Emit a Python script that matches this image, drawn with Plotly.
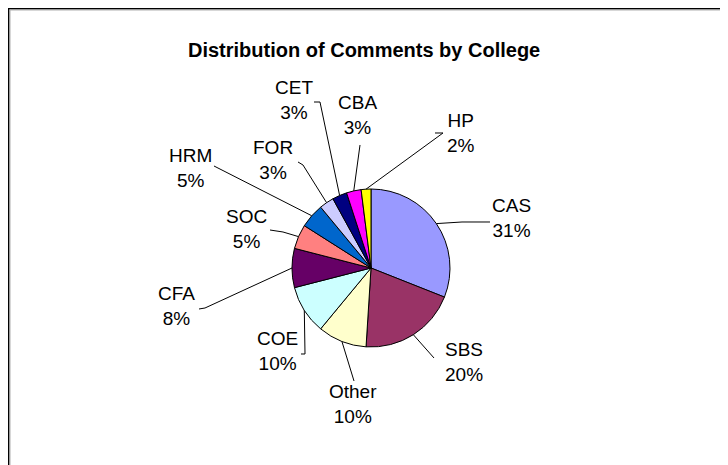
import math
import plotly.graph_objects as go

# ---- data ----
colleges = ["CAS", "SBS", "Other", "COE", "CFA", "SOC", "HRM", "FOR", "CET", "CBA", "HP"]
shares = [31, 20, 10, 10, 8, 5, 5, 3, 3, 3, 2]
colors = ["#9999FF", "#993366", "#FFFFCC", "#CCFFFF", "#660066", "#FF8080",
          "#0066CC", "#CCCCFF", "#000080", "#FF00FF", "#FFFF00"]
chart_title = "Distribution of Comments by College"

# ---- layout constants (window pixels; page body adds an 8px offset) ----
OFF = 8
W, H = 728 - OFF, 465 - OFF
CX, CY, R = 371, 268, 79
FONT = "Liberation Sans, Arial, sans-serif"

# label block centres
label_center = {
    "CAS": (512, 218), "SBS": (464, 362), "Other": (353, 404), "COE": (277, 351),
    "CFA": (176, 306), "SOC": (246, 229), "HRM": (190, 168), "FOR": (273, 160),
    "CET": (294, 100), "CBA": (357, 115), "HP": (461, 133),
}
# leader-line points on the label side (from slice towards label)
leader_tail = {
    "CAS": [(462, 222), (490, 222)],
    "SBS": [(434, 358)],
    "Other": [(354, 381)],
    "COE": [(305, 354), (301, 354)],
    "CFA": [(205, 308), (199, 309)],
    "SOC": [(283, 232), (270, 230)],
    "HRM": [(214, 166)],
    "FOR": [(303, 165), (298, 162)],
    "CET": [(320, 102), (314, 102)],
    "CBA": [(360, 145)],
    "HP": [(443, 133), (435, 133)],
}


def px(x):
    return (x - OFF) / W


def py(y):
    return 1 - (y - OFF) / H


fig = go.Figure()
fig.add_trace(go.Pie(
    labels=colleges, values=shares, sort=False, direction="clockwise", rotation=0,
    marker=dict(colors=colors, line=dict(color="black", width=1)),
    textinfo="none", hoverinfo="label+percent", showlegend=False,
    domain=dict(x=[px(CX - R), px(CX + R)], y=[py(CY + R), py(CY - R)]),
))

total = sum(shares)
shapes = []
annotations = []
cum = 0
for name, v in zip(colleges, shares):
    mid = (cum + v / 2) / total * 2 * math.pi
    cum += v
    ex = CX + R * math.sin(mid)
    ey = CY - R * math.cos(mid)
    pts = [(ex, ey)] + leader_tail[name]
    path = "M " + " L ".join(f"{px(a):.5f},{py(b):.5f}" for a, b in pts)
    shapes.append(dict(type="path", xref="paper", yref="paper", path=path,
                       line=dict(color="black", width=1)))
    lx, ly = label_center[name]
    annotations.append(dict(
        x=px(lx), y=py(ly), xref="paper", yref="paper", xanchor="center", yanchor="middle",
        text=f"{name}<br>{round(100 * v / total)}%", showarrow=False, align="center",
        font=dict(family=FONT, size=19, color="black"),
    ))

# chart frame (top and left edges visible)
shapes += [
    dict(type="line", xref="paper", yref="paper", x0=0, x1=1.02, y0=py(OFF + 0.5), y1=py(OFF + 0.5),
         line=dict(color="black", width=2)),
    dict(type="line", xref="paper", yref="paper", x0=px(OFF + 0.5), x1=px(OFF + 0.5), y0=1, y1=-0.02,
         line=dict(color="black", width=2)),
    dict(type="line", xref="paper", yref="paper", x0=px(OFF + 1.5), x1=1.02, y0=py(OFF + 2), y1=py(OFF + 2),
         line=dict(color="#B0B0B0", width=1)),
    dict(type="line", xref="paper", yref="paper", x0=px(OFF + 2), x1=px(OFF + 2), y0=py(OFF + 1.5), y1=-0.02,
         line=dict(color="#B0B0B0", width=1)),
]

annotations.append(dict(
    x=px(364), y=py(50), xref="paper", yref="paper", xanchor="center", yanchor="middle",
    text=f"<b>{chart_title}</b>", showarrow=False,
    font=dict(family=FONT, size=20, color="black"),
))

fig.update_layout(
    width=W, height=H, margin=dict(l=0, r=0, t=0, b=0),
    paper_bgcolor="white", plot_bgcolor="white",
    shapes=shapes, annotations=annotations,
)

fig.write_html("out.html")
